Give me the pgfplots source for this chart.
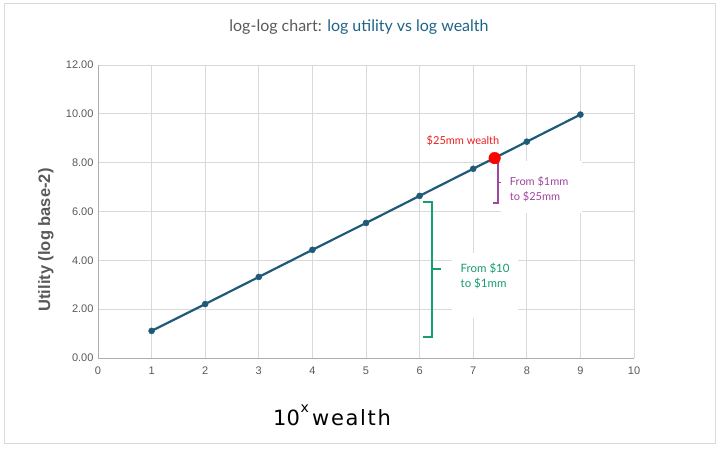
\documentclass[border=0pt]{standalone}
\usepackage{pgfplots}
\pgfplotsset{compat=1.18}
\usepackage{fontspec}
\setmainfont{Lato}
\newfontfamily\arial{Liberation Sans}
\newfontfamily\dejavu[LetterSpace=8]{DejaVu Sans}
\newfontfamily\dejavuplain{DejaVu Sans}
\definecolor{lineblue}{RGB}{31,90,120}
\definecolor{titleblue}{RGB}{30,100,135}
\definecolor{txtgray}{RGB}{89,89,89}
\definecolor{gridgray}{RGB}{217,217,217}
\definecolor{annogreen}{RGB}{22,158,108}
\definecolor{annopurple}{RGB}{160,70,160}
\definecolor{annored}{RGB}{235,30,30}
\begin{document}
\begin{tikzpicture}[x=1pt,y=1pt]
\path (0,0) rectangle (719,448);
\draw[gridgray, line width=1pt] (4,5) rectangle (715,444);
\begin{axis}[
  at={(98pt,90pt)}, anchor=south west,
  scale only axis, width=536pt, height=293pt,
  xmin=0, xmax=10, ymin=0, ymax=12,
  xtick={0,1,...,10}, ytick={0,2,...,12},
  grid=major, major grid style={color=gridgray, line width=0.8pt},
  axis lines*=left,
  axis line style={color=gridgray!80!black, line width=0.8pt},
  tick style={draw=none},
  /pgf/number format/assume math mode=true,
  tick label style={font=\arial\fontsize{11}{13}\selectfont, text=txtgray},
  yticklabel style={/pgf/number format/.cd, fixed, fixed zerofill, precision=2},
  xticklabel style={/pgf/number format/.cd, fixed, precision=0},
  xticklabel shift=5pt,
  yticklabel shift=1pt,
]
\addplot[color=lineblue, line width=2.2pt, mark=*, mark size=3pt, mark options={fill=lineblue, draw=lineblue, line width=0.5pt}]
  coordinates {(1,1.11) (2,2.21) (3,3.32) (4,4.43) (5,5.53) (6,6.64) (7,7.75) (8,8.86) (9,9.97)};
\addplot[only marks, mark=*, mark size=5.8pt, color=red, mark options={fill=red, draw=red}]
  coordinates {(7.4,8.19)};
% green bracket
\fill[white] (axis cs:6.6,1.65) rectangle (axis cs:7.84,4.3);
\draw[draw=annogreen, line width=1.4pt] (axis cs:6.06,6.39) -- (axis cs:6.23,6.39) -- (axis cs:6.23,0.86) -- (axis cs:6.06,0.86);
\draw[draw=annogreen, line width=1.4pt] (axis cs:6.23,3.65) -- (axis cs:6.4,3.65);
\node[anchor=west, align=left, text=annogreen, font=\fontsize{11.5}{15}\selectfont] at (axis cs:6.7,3.35) {From \$10\\to \$1mm};
% purple bracket
\fill[white] (axis cs:7.52,5.94) rectangle (axis cs:9.03,8.06);
\draw[draw=annopurple, line width=1.4pt] (axis cs:7.37,7.99) -- (axis cs:7.46,7.99) -- (axis cs:7.46,6.35) -- (axis cs:7.37,6.35);
\draw[draw=annopurple, line width=1.4pt] (axis cs:7.46,7.2) -- (axis cs:7.52,7.2);
\node[anchor=west, align=left, text=annopurple, font=\fontsize{11}{15}\selectfont] at (axis cs:7.62,6.93) {From \$1mm\\to \$25mm};
\node[text=annored, font=\fontsize{11}{13}\selectfont] at (axis cs:6.81,8.89) {\$25mm wealth};
\end{axis}
\node[font=\fontsize{16}{19}\selectfont] at (359,421) {\textcolor{txtgray}{log-log chart:} \textcolor{titleblue}{log utility vs log wealth}};
\node[font=\dejavuplain\fontsize{21}{25}\selectfont, anchor=base west, inner sep=0pt] at (273,23) {10};
\node[font=\dejavuplain\fontsize{14}{16}\selectfont, anchor=base west, inner sep=0pt] at (300.5,36) {x};
\node[font=\dejavu\fontsize{21}{25}\selectfont, anchor=base west, inner sep=0pt] at (312,23) {wealth};
\node[rotate=90, font=\arial\bfseries\fontsize{16.5}{19}\selectfont, text=txtgray] at (46,208) {Utility (log base-2)};
\end{tikzpicture}
\end{document}
